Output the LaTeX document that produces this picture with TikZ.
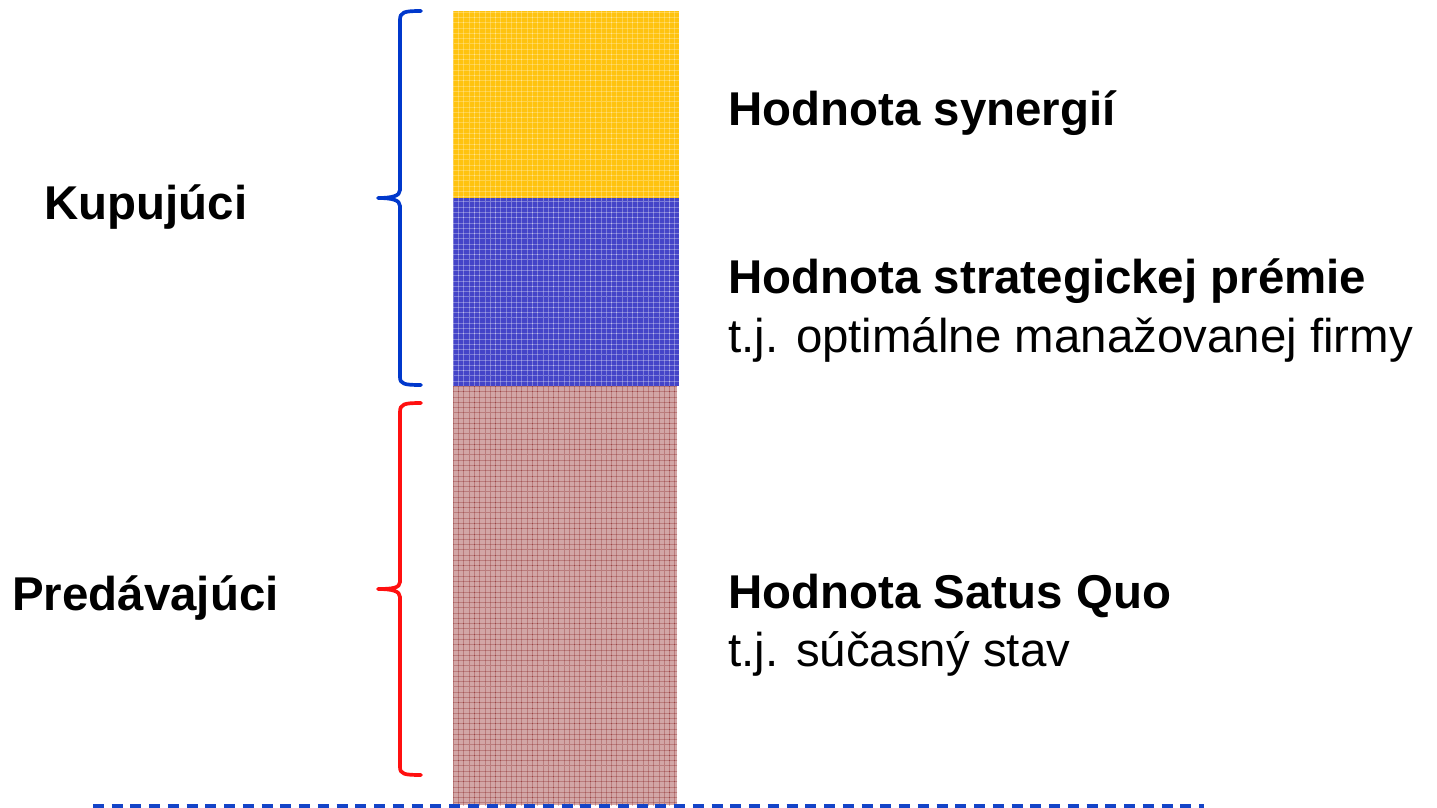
\documentclass[tikz,border=0pt]{standalone}
\usepackage{fontspec}
\setmainfont{Liberation Sans}
\usetikzlibrary{patterns}
\definecolor{synyellow}{HTML}{FFC30F}
\definecolor{premblue}{HTML}{4444C8}
\definecolor{quored}{HTML}{D2A6A6}
\definecolor{buyblue}{HTML}{0038CC}
\definecolor{sellred}{HTML}{FF1010}
\definecolor{baseblue}{HTML}{1444C8}
\tikzset{
  texture/.style={pattern=grid, pattern color=#1},
  bracepath/.style={line width=2.1pt, line cap=round, line join=round},
  bold/.style={anchor=base west, inner sep=0pt, font=\fontsize{27}{32}\selectfont\bfseries},
  plain/.style={anchor=base west, inner sep=0pt, font=\fontsize{27}{32}\selectfont},
}
\begin{document}
\begin{tikzpicture}[x=0.02cm, y=-0.02cm]
\useasboundingbox (0,0) rectangle (1437,808);

% stacked value blocks
\fill[synyellow] (453,11) rectangle (679,198);
\fill[texture=white, opacity=0.25] (453,11) rectangle (679,198);
\fill[premblue] (453,198) rectangle (679,386);
\fill[texture=white, opacity=0.3] (453,198) rectangle (679,386);
\fill[quored] (453,386) rectangle (677,805);
\fill[texture={red!45!black}, opacity=0.25] (453,386) rectangle (677,805);

% braces
\draw[bracepath, buyblue] (421,11) .. controls (404,11) and (400,12) .. (400,20) -- (400,190)
  .. controls (400,196) and (392,198) .. (378,198)
  .. controls (392,198) and (400,200) .. (400,206) -- (400,377)
  .. controls (400,384) and (404,385) .. (421,385);
\draw[bracepath, sellred] (421,403) .. controls (404,403) and (400,404) .. (400,412) -- (400,582)
  .. controls (400,588) and (392,589) .. (378,589)
  .. controls (392,589) and (400,591) .. (400,597) -- (400,767)
  .. controls (400,774) and (404,775) .. (421,775);

% base line
\coordinate (baseL) at (93,806);
\coordinate (baseR) at (1204,806);
\draw[baseblue, line width=1.9pt, dash pattern=on 0.22cm off 0.155cm] (baseL) -- (baseR);

% labels
\node[bold] (buyer) at (44,219) {Kupujúci};
\node[bold] (seller) at (12,610) {Predávajúci};
\node[bold] (syn) at (728,125) {Hodnota synergií};
\node[bold] (prem) at (728,293) {Hodnota strategickej prémie};
\node[plain] (premsub) at (728,352) {t.j. optimálne manažovanej firmy};
\node[bold] (quo) at (728,608) {Hodnota Satus Quo};
\node[plain] (quosub) at (728,666) {t.j. súčasný stav};
\end{tikzpicture}
\end{document}
